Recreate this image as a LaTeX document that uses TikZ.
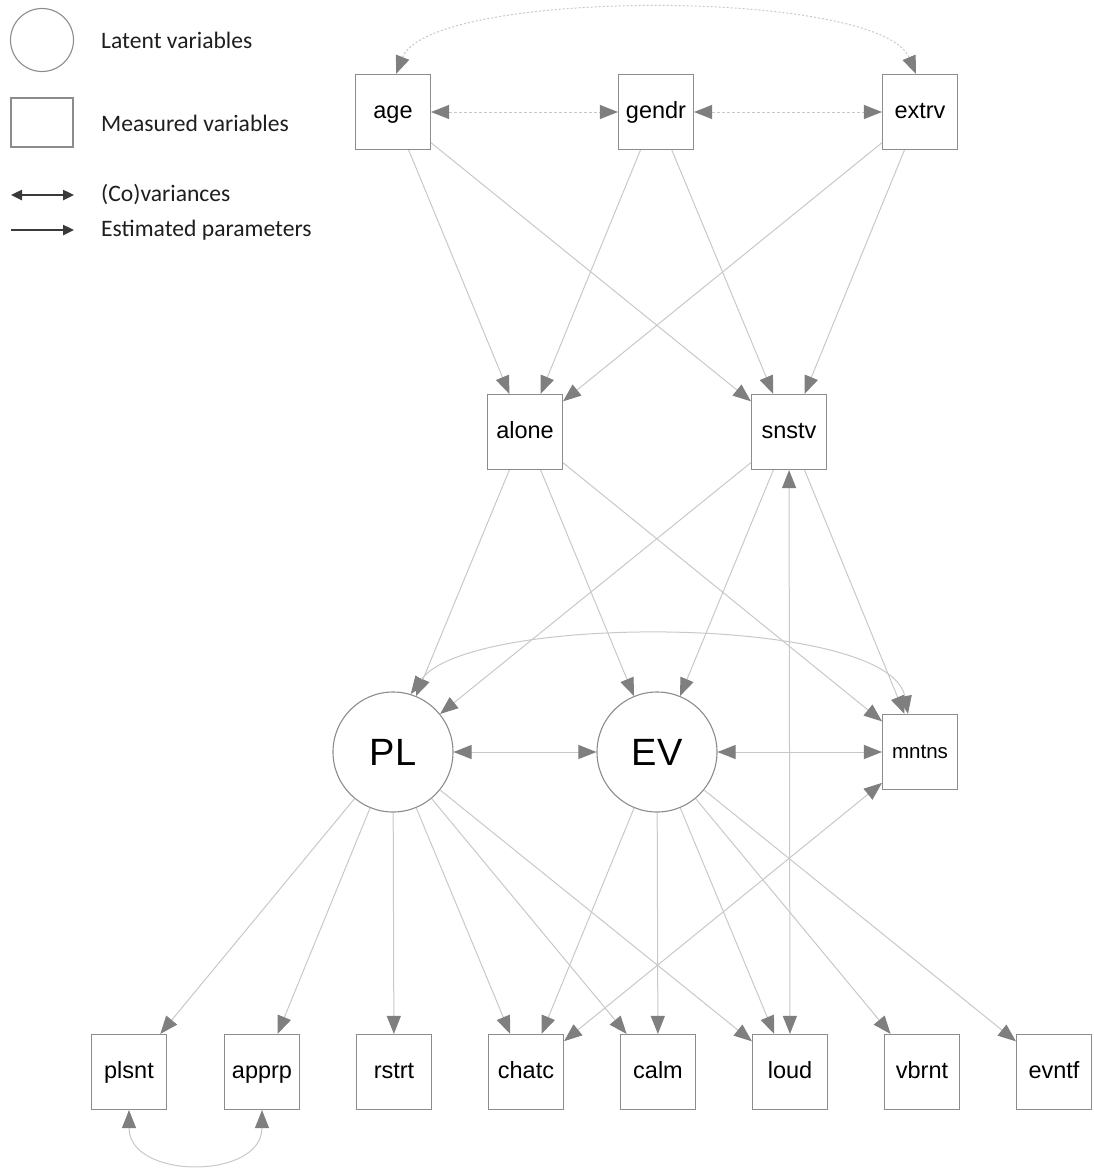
\documentclass[tikz,border=0pt]{standalone}
\usepackage{fontspec}
\setmainfont{Liberation Sans}
\newfontfamily\legendfont{Carlito}
\usetikzlibrary{arrows.meta}

\definecolor{edgegray}{HTML}{C8C8C8}
\definecolor{headgray}{HTML}{7F7F7F}
\definecolor{framegray}{HTML}{8C8C8C}
\definecolor{legendink}{HTML}{3A3A3A}
\definecolor{legendtext}{HTML}{1E1E1E}

\begin{document}
\begin{tikzpicture}[x=1pt,y=-1pt,
  manifest/.style={draw=framegray,line width=1.1pt,fill=white,
    minimum width=75pt,minimum height=75pt,inner sep=0pt,
    text height=17pt,text depth=5pt,
    font=\fontsize{23.5}{23.5}\selectfont},
  latent/.style={circle,draw=framegray,line width=1.1pt,fill=white,
    minimum size=120pt,inner sep=0pt,font=\fontsize{38}{38}\selectfont},
  headtip/.tip={Triangle[length=18pt,width=14pt,color=headgray]},
  regpath/.style={draw=edgegray,line width=1pt,-headtip},
  covpath/.style={draw=edgegray,line width=1pt,headtip-headtip},
  exocov/.style={covpath,dash pattern=on 3pt off 2pt},
  legendtip/.tip={Triangle[length=11pt,width=10pt,color=legendink]},
  legendarrow/.style={draw=legendink,line width=2.4pt},
  legendlabel/.style={anchor=west,inner sep=0pt,text=legendtext,
    font=\legendfont\fontsize{23.6}{23.6}\selectfont},
]
\useasboundingbox (0,0) rectangle (1094,1173);

% legend
\node[circle,draw=framegray,line width=1.1pt,minimum size=63pt,inner sep=0pt] (legLatent) at (42,40) {};
\node[draw=framegray,line width=1.1pt,minimum width=62pt,minimum height=49pt,inner sep=0pt] (legManifest) at (42,122.5) {};
\node[legendlabel] (legLatentTxt) at (101,40) {Latent variables};
\node[legendlabel] (legManifestTxt) at (101,123) {Measured variables};
\node[legendlabel] (legCovTxt) at (101,195) {(Co)variances};
\node[legendlabel] (legRegTxt) at (101,230) {Estimated parameters};
\coordinate (legCovA) at (11,195);
\coordinate (legCovB) at (74,195);
\coordinate (legRegA) at (11,230);
\coordinate (legRegB) at (74,230);
\draw[legendarrow,legendtip-legendtip] (legCovA) -- (legCovB);
\draw[legendarrow,-legendtip] (legRegA) -- (legRegB);

% exogenous variables
\node[manifest] (age)   at (393,112) {age};
\node[manifest] (gendr) at (656,112) {gendr};
\node[manifest] (extrv) at (920,112) {extrv};

% mediators
\node[manifest] (alone) at (525,432) {alone};
\node[manifest] (snstv) at (789,432) {snstv};

% latent factors and maintenance
\node[latent] (PL) at (393,752) {PL};
\node[latent] (EV) at (657,752) {EV};
\node[manifest,font=\fontsize{20.5}{20.5}\selectfont] (mntns) at (920,752) {mntns};

% indicators
\node[manifest] (plsnt) at (129,1072) {plsnt};
\node[manifest] (apprp) at (262,1072) {apprp};
\node[manifest] (rstrt) at (394,1072) {rstrt};
\node[manifest] (chatc) at (526,1072) {chatc};
\node[manifest] (calm)  at (658,1072) {calm};
\node[manifest] (loud)  at (790,1072) {loud};
\node[manifest] (vbrnt) at (922,1072) {vbrnt};
\node[manifest] (evntf) at (1054,1072) {evntf};

% covariances among exogenous variables
\draw[exocov] (age) -- (gendr);
\draw[exocov] (gendr) -- (extrv);
\draw[covpath,dash pattern=on 2pt off 2pt]
  ([xshift=3pt]age.north) .. controls (430,-12) and (880,-12) .. ([xshift=-4pt]extrv.north);

% exogenous -> mediators
\foreach \src in {age,gendr,extrv}{
  \draw[regpath] (\src) -- (alone);
  \draw[regpath] (\src) -- (snstv);
}

% mediators -> factors and maintenance
\foreach \src in {alone,snstv}{
  \draw[regpath] (\src) -- (PL);
  \draw[regpath] (\src) -- (EV);
  \draw[regpath] (\src) -- (mntns);
}

% residual covariances
\draw[covpath] (PL) -- (EV);
\draw[covpath] (EV) -- (mntns);
\draw[covpath] (PL.73) .. controls (470,612) and (890,615) .. ([xshift=-12pt]mntns.north);
\draw[covpath] (snstv) -- (loud);
\draw[covpath] (mntns) -- (chatc);
\draw[covpath] (plsnt.south) .. controls (129,1180) and (262,1180) .. (apprp.south);

% factor loadings
\foreach \ind in {plsnt,apprp,rstrt,chatc,calm,loud}{
  \draw[regpath] (PL) -- (\ind);
}
\foreach \ind in {chatc,calm,loud,vbrnt,evntf}{
  \draw[regpath] (EV) -- (\ind);
}
\end{tikzpicture}
\end{document}
